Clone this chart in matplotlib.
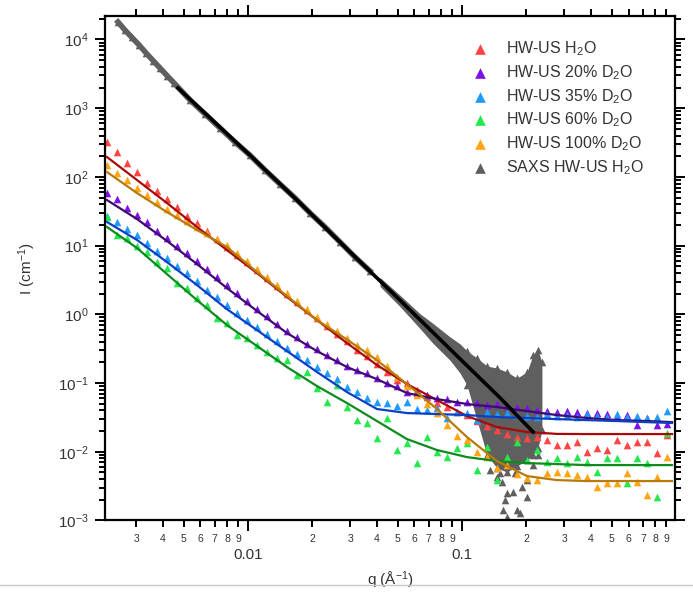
import numpy as np
import matplotlib
matplotlib.use("Agg")
import matplotlib.pyplot as plt
from matplotlib.ticker import LogLocator, FuncFormatter, NullFormatter
from matplotlib.lines import Line2D

plt.rcParams['font.family'] = ['Liberation Sans', 'DejaVu Sans']
plt.rcParams['mathtext.default'] = 'regular'

# SANS data (same q for all samples)
q = [0.002193, 0.002443, 0.002720, 0.003030, 0.003373, 0.003757, 0.004183, 0.004659,
     0.005188, 0.005778, 0.006433, 0.007164, 0.007977, 0.008884, 0.009893, 0.01102,
     0.01227, 0.01366, 0.01521, 0.01694, 0.01887, 0.02101, 0.02339, 0.02605, 0.02901,
     0.03230, 0.03597, 0.04006, 0.04461, 0.04968, 0.05532, 0.06160, 0.06860, 0.07639,
     0.08507, 0.09475, 0.1055, 0.1175, 0.1309, 0.1457, 0.1623, 0.1807, 0.2013, 0.2241,
     0.2495, 0.2779, 0.3095, 0.3446, 0.3838, 0.4274, 0.4760, 0.5301, 0.5902, 0.6573,
     0.7320, 0.8151, 0.9078]

i_h2o = [322, 230, 159, 118, 81.5, 62.3, 47.6, 36.5, 27.0, 21.3, 16.3, 12.5, 9.54, 7.30,
         5.77, 4.42, 3.38, 2.58, 1.97, 1.51, 1.16, 0.883, 0.676, 0.516, 0.408, 0.302,
         0.247, 0.189, 0.145, 0.111, 0.100, 0.0791, 0.0625, 0.0512, 0.0448, 0.0378,
         0.0342, 0.0280, 0.0237, 0.0207, 0.0181, 0.0164, 0.0158, 0.0164, 0.0148, 0.0125,
         0.0125, 0.0138, 0.00990, 0.0113, 0.0106, 0.0148, 0.0125, 0.0138, 0.0138,
         0.00958, 0.0175]
i_d20 = [58.3, 47.6, 35.3, 27.9, 22.1, 16.3, 12.9, 9.87, 7.80, 5.97, 4.56, 3.49, 2.67,
         2.04, 1.56, 1.19, 0.945, 0.723, 0.571, 0.468, 0.370, 0.313, 0.256, 0.216, 0.177,
         0.155, 0.140, 0.118, 0.100, 0.0904, 0.0740, 0.0715, 0.0669, 0.0605, 0.0585,
         0.0529, 0.0529, 0.0512, 0.0478, 0.0495, 0.0463, 0.0448, 0.0433, 0.0405, 0.0391,
         0.0378, 0.0391, 0.0378, 0.0366, 0.0366, 0.0354, 0.0331, 0.0342, 0.0245, 0.0310,
         0.0245, 0.0253]
i_d35 = [27.0, 22.1, 17.5, 14.3, 10.9, 8.34, 6.60, 5.05, 3.99, 3.05, 2.26, 1.79, 1.37,
         1.04, 0.826, 0.653, 0.516, 0.408, 0.323, 0.264, 0.216, 0.171, 0.140, 0.114,
         0.0874, 0.0740, 0.0605, 0.0529, 0.0512, 0.0463, 0.0529, 0.0419, 0.0405, 0.0433,
         0.0310, 0.0378, 0.0366, 0.0289, 0.0378, 0.0354, 0.0366, 0.0342, 0.0331, 0.0320,
         0.0354, 0.0331, 0.0342, 0.0320, 0.0354, 0.0331, 0.0320, 0.0354, 0.0320, 0.0331,
         0.0310, 0.0320, 0.0391]
i_d60 = [26.1, 14.3, 12.9, 9.87, 8.07, 5.77, 4.72, 2.86, 2.41, 1.73, 1.37, 0.883, 0.746,
         0.500, 0.452, 0.357, 0.282, 0.231, 0.216, 0.131, 0.145, 0.0846, 0.0529, 0.0935,
         0.0448, 0.0289, 0.0262, 0.0158, 0.0310, 0.0106, 0.0134, 0.00685, 0.0164,
         0.00990, 0.00837, 0.0113, 0.0134, 0.00542, 0.0117, 0.00387, 0.00837, 0.0138,
         0.00757, 0.0106, 0.00708, 0.00810, 0.00685, 0.00837, 0.00708, 0.00507, 0.00810,
         0.00810, 0.00350, 0.00810, 0.00685, 0.00219, 0.0187]
i_d100 = [149, 114, 90.2, 68.9, 54.5, 43.1, 34.1, 27.9, 22.8, 18.7, 15.2, 12.5, 10.2, 7.80,
          5.97, 4.56, 3.49, 2.67, 2.04, 1.56, 1.19, 0.914, 0.723, 0.571, 0.452, 0.357,
          0.302, 0.239, 0.177, 0.122, 0.0904, 0.0669, 0.0495, 0.0366, 0.0245, 0.0169,
          0.0148, 0.00990, 0.00837, 0.00579, 0.00640, 0.00473, 0.00414, 0.00387, 0.00490,
          0.00507, 0.00490, 0.00458, 0.00428, 0.00306, 0.00350, 0.00350, 0.00490, 0.00362,
          0.00234, 0.00428, 0.0084]

# model fits
q_fit = [0.002193, 0.003030, 0.004183, 0.005778, 0.007977, 0.01102, 0.01521, 0.02101,
         0.02901, 0.04006, 0.05532, 0.07639, 0.1055, 0.1457, 0.2013, 0.2779, 0.3838,
         0.5301, 0.7320, 0.958]
fit_h2o = [195, 90.2, 41.7, 18.7, 8.63, 3.99, 1.79, 0.826, 0.382, 0.183, 0.0967, 0.0566,
           0.0331, 0.0229, 0.0194, 0.0182, 0.0181, 0.0181, 0.0181, 0.0181]
fit_d20 = [46.1, 24.4, 11.7, 5.40, 2.41, 1.12, 0.535, 0.292, 0.171, 0.114, 0.0715, 0.0585,
           0.0495, 0.0448, 0.0391, 0.0342, 0.0310, 0.0289, 0.0280, 0.0270]
fit_d35 = [22.1, 12.1, 5.77, 2.67, 1.19, 0.590, 0.292, 0.145, 0.0740, 0.0419, 0.0366,
           0.0354, 0.0342, 0.0320, 0.0310, 0.0299, 0.0289, 0.0280, 0.0270, 0.0262]
fit_d60 = [18.7, 9.23, 3.86, 1.61, 0.698, 0.346, 0.171, 0.0904, 0.0512, 0.0280, 0.0153,
           0.0106, 0.00837, 0.00732, 0.00685, 0.00662, 0.00640, 0.00640, 0.00640, 0.00640]
fit_d100 = [118, 58.3, 30.8, 16.9, 9.54, 4.13, 1.85, 0.826, 0.430, 0.215, 0.0967, 0.0419,
            0.0164, 0.00732, 0.00443, 0.00387, 0.00375, 0.00375, 0.00375, 0.00375]

# SAXS H2O
q_saxs = [0.00247, 0.00266, 0.00287, 0.00310, 0.00334, 0.00360, 0.00388, 0.00418, 0.00451,
          0.00536, 0.00630, 0.00740, 0.00869, 0.0102, 0.0120, 0.0141, 0.0166, 0.0195,
          0.0229, 0.0269, 0.0316, 0.0372]
i_saxs = [17990, 13740, 10690, 8310, 6360, 4940, 3850, 2990, 2330, 1315, 824, 515, 322,
          208, 126, 78.8, 49.3, 29.8, 18.7, 11.3, 6.82, 4.26]
q_band = [0.0414, 0.0513, 0.0637, 0.0731, 0.0879, 0.0979, 0.1055, 0.1175, 0.1309, 0.1459,
          0.1623, 0.1808, 0.2014, 0.2148, 0.2265, 0.2364]
band_high = [3.45, 1.90, 1.02, 0.740, 0.470, 0.372, 0.295, 0.231, 0.177, 0.165, 0.145,
             0.118, 0.145, 0.256, 0.302, 0.202]
band_low = [2.55, 1.30, 0.620, 0.380, 0.215, 0.140, 0.0935, 0.0289, 0.00895, 0.00579,
            0.00507, 0.0062, 0.00757, 0.00895, 0.0113, 0.0207]
q_sparse = [0.1459, 0.1538, 0.1623, 0.1588, 0.1623, 0.173, 0.1808, 0.1905, 0.2014, 0.177,
            0.151, 0.1556, 0.1866, 0.2014, 0.1352, 0.2148, 0.2265]
i_sparse = [0.00428, 0.00362, 0.00251, 0.00198, 0.00112, 0.00259, 0.00142, 0.00306,
            0.00387, 0.0049, 0.0049, 0.00142, 0.00128, 0.00219, 0.00542, 0.0064, 0.00895]
q_saxs_fit = [0.00471, 0.0102, 0.0175, 0.0300, 0.0513, 0.0879, 0.151, 0.215]
saxs_fit = [1968, 208, 41.7, 8.07, 1.61, 0.313, 0.0605, 0.0194]

labels = ['HW-US H$_2$O', 'HW-US 20% D$_2$O', 'HW-US 35% D$_2$O',
          'HW-US 60% D$_2$O', 'HW-US 100% D$_2$O', 'SAXS HW-US H$_2$O']

fig = plt.figure(figsize=(6.93, 5.96), dpi=100)
ax = fig.add_axes([0.1515, 0.1267, 0.8225, 0.8465])
ax.set_xscale('log')
ax.set_yscale('log')

gray = '#5f5f5f'
ax.fill_between(q_band, band_low, band_high, color=gray, lw=0, zorder=1)
ax.scatter(q_band[6:], band_high[6:], marker='^', s=30, color=gray, lw=0, zorder=1)
ax.scatter(q_band[6:], band_low[6:], marker='^', s=30, color=gray, lw=0, zorder=1)
ax.scatter(q_sparse, i_sparse, marker='^', s=30, color=gray, lw=0, zorder=1)
ax.plot(q_saxs, i_saxs, color=gray, lw=4, zorder=1)

sets = [
    (i_h2o, fit_h2o, '#ff4545', '#a80a0a'),
    (i_d20, fit_d20, '#7d10e8', '#3e0c6e'),
    (i_d35, fit_d35, '#1e9bff', '#0d3fc4'),
    (i_d60, fit_d60, '#25e84f', '#0e8a1e'),
    (i_d100, fit_d100, '#ffa514', '#b87a0a'),
]
for (vals, fit, c, lc), lab in zip(sets, labels):
    ax.scatter(q, vals, marker='^', s=30, color=c, lw=0, zorder=2, label=lab)
for (vals, fit, c, lc) in sets:
    ax.plot(q_fit, fit, color=lc, lw=1.6, zorder=3)

ax.scatter(q_saxs, i_saxs, marker='^', s=30, color=gray, lw=0, zorder=1, label=labels[5])
ax.plot(q_saxs_fit, saxs_fit, color='black', lw=2.6, zorder=4)

ax.set_xlim(0.002148, 0.9893)
ax.set_ylim(1e-3, 21980)

ax.xaxis.set_major_locator(LogLocator(base=10, numticks=20))
ax.xaxis.set_minor_locator(LogLocator(base=10, subs=np.arange(2, 10), numticks=20))
ax.xaxis.set_major_formatter(FuncFormatter(lambda v, p: '%g' % v))
ax.xaxis.set_minor_formatter(FuncFormatter(
    lambda v, p: '%d' % round(v / 10 ** np.floor(np.log10(v) + 1e-9))))
ax.yaxis.set_major_locator(LogLocator(base=10, numticks=20))
ax.yaxis.set_minor_locator(LogLocator(base=10, subs=np.arange(2, 10), numticks=20))
ax.yaxis.set_minor_formatter(NullFormatter())

for s in ax.spines.values():
    s.set_linewidth(1.6)
ax.tick_params(which='both', direction='out', top=True, right=True,
               labelcolor='#333333', width=1.4)
ax.tick_params(axis='x', which='major', length=8, pad=12, labelsize=11)
ax.tick_params(axis='x', which='minor', length=5, pad=5, labelsize=7.5)
ax.tick_params(axis='y', which='major', length=7, pad=5, labelsize=11)
ax.tick_params(axis='y', which='minor', length=4)

ax.set_xlabel('q (Å$^{-1}$)', fontsize=11, color='#333333')
ax.xaxis.set_label_coords(0.5, -0.098)
ax.set_ylabel('I (cm$^{-1}$)', fontsize=11, color='#333333')
ax.yaxis.set_label_coords(-0.118, 0.5)

leg = ax.legend(loc='upper left', bbox_to_anchor=(0.644, 0.954), frameon=False,
                fontsize=11.5, markerscale=1.4, handlelength=1.0, handletextpad=1.1,
                labelspacing=0.32, borderpad=0, borderaxespad=0)
for t in leg.get_texts():
    t.set_color('#333333')

fig.add_artist(Line2D([0, 1], [0.0185, 0.0185], transform=fig.transFigure,
                      color='#c8c8c8', lw=1))

fig.savefig('out.png', dpi=100)
